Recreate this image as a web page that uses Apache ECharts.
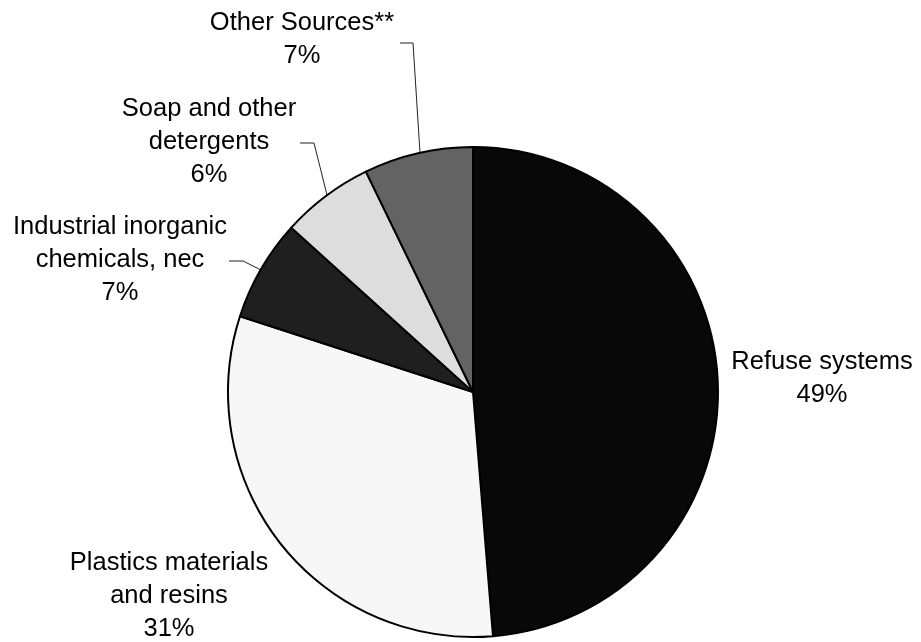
<!DOCTYPE html>
<html>
<head>
<meta charset="utf-8">
<script src="https://cdn.jsdelivr.net/npm/echarts@6/dist/echarts.min.js"></script>
<style>
    html, body { margin: 0; padding: 0; background: #ffffff; }
    #main { width: 921px; height: 642px; }
</style>
</head>
<body>
<div id="main"></div>
<script>
// slices, clockwise from 12 o'clock
let categories = ["Refuse systems", "Plastics materials\nand resins", "Industrial inorganic\nchemicals, nec", "Soap and other\ndetergents", "Other Sources**"];
let shares = [48.7, 31.3, 6.7, 6.1, 7.2];
let sliceColors = ["#080808", "#f7f7f7", "#1f1f1f", "#dddddd", "#636363"];

// where each label sits and how its leader line runs
let labelSpots = [
    { x: 822, y: 378, line: null },
    { x: 169, y: 596, line: null },
    { x: 120, y: 260, line: [[229, 261], [243, 261], [261, 270]] },
    { x: 209, y: 142, line: [[300, 143], [314, 143], [327, 195]] },
    { x: 302, y: 39, line: [[400, 43], [413, 43], [420, 153]] }
];

let myChart = echarts.init(document.getElementById("main"));

let pieData = [];
for (let i = 0; i < categories.length; i = i + 1) {
    pieData.push({
        name: categories[i],
        value: shares[i],
        itemStyle: { color: sliceColors[i] },
        labelLine: { show: labelSpots[i].line !== null }
    });
}

let option = {
    animation: false,
    backgroundColor: "#ffffff",
    series: [
        {
            type: "pie",
            center: [473, 392],
            radius: 245,
            startAngle: 90,
            clockwise: true,
            data: pieData,
            itemStyle: {
                borderColor: "#000000",
                borderWidth: 2
            },
            label: {
                show: true,
                position: "outside",
                color: "#000000",
                fontFamily: "Liberation Sans, Arial, sans-serif",
                fontSize: 25.5,
                lineHeight: 33,
                align: "center",
                overflow: "none",
                formatter: function (p) {
                    return p.name + "\n" + Math.round(p.percent) + "%";
                }
            },
            labelLine: {
                lineStyle: { color: "#222222", width: 1 }
            },
            labelLayout: function (params) {
                let spot = labelSpots[params.dataIndex];
                let out = {
                    x: spot.x,
                    y: spot.y,
                    align: "center",
                    verticalAlign: "middle"
                };
                if (spot.line !== null) {
                    out.labelLinePoints = spot.line;
                }
                return out;
            }
        }
    ]
};

myChart.setOption(option);
</script>
</body>
</html>
